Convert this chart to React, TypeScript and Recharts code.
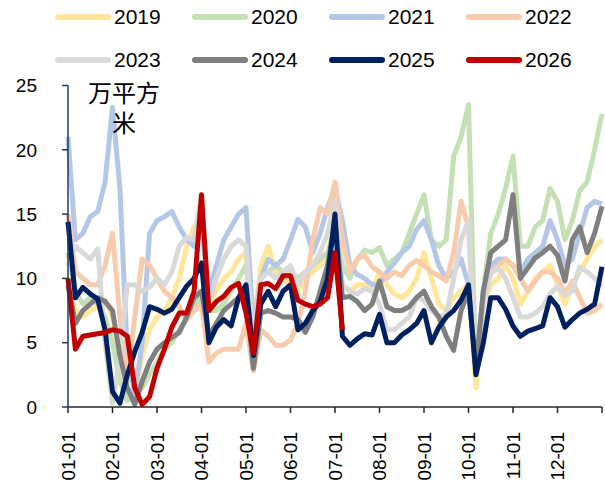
import React from "react";
import { LineChart, Line, XAxis, YAxis } from "recharts";

// ~5-day steps across the year, 6 points per month (index 0..72)
const MONTH_LABELS = ["01-01", "02-01", "03-01", "04-01", "05-01", "06-01", "07-01", "08-01", "09-01", "10-01", "11-01", "12-01"];
const Y_TICKS = [0, 5, 10, 15, 20, 25];

const Y2019 = [
  10, 7.5, 7, 7.5, 7.8, 8.3, 7, 4, 1, 0.5, 4, 6,
  7, 7.5, 8.5, 10, 12.5, 14, 14.5, 8, 9, 10, 10.5, 11.5,
  12, 6, 11, 12.5, 10.5, 10, 9.5, 9, 10, 10.5, 11, 11.5,
  12, 9.5, 9, 9.5, 9.5, 9, 10.5, 9.5, 8.8, 8.5, 9, 10,
  12, 10, 8, 7.5, 8.5, 9, 9.5, 1.5, 8, 9.5, 10, 11,
  10, 8, 9, 10, 10.5, 11, 9.5, 8, 9.5, 10.5, 11.5, 12.5, 13,
];
const Y2020 = [
  12, 9, 8, 8.5, 8, 7, 5, 2, 0.5, 0.8, 1.5, 2.5,
  3.5, 4.5, 5, 6, 6.8, 7.5, 9, 7.5, 7.5, 8, 9, 10,
  11, 6, 10, 10.5, 11, 10.5, 10.5, 10, 10.5, 11, 11.5, 12,
  14, 11, 10, 11.5, 12.2, 12, 12.4, 11, 11.5, 12, 13.5, 15,
  16.5, 13, 12.5, 13, 19.5, 21, 23.5, 2.5, 9, 13.5, 15, 17,
  19.5, 12.5, 12.5, 14, 14.5, 17, 16, 13, 14.5, 16.8, 17.5, 20, 22.8,
];
const Y2021 = [
  21, 13, 13.5, 14.8, 15.2, 17.5, 23.3, 17, 4, 1, 5, 13.5,
  14.5, 14.8, 15.2, 14, 13, 12.5, 14, 9, 11, 13, 14, 15,
  15.5, 6, 10, 11.5, 11, 11.5, 13, 14.6, 14, 12, 13.5, 15.5,
  17, 14.5, 11, 10.3, 10, 9.5, 9.5, 10.5, 11.2, 12, 12.5, 13.8,
  14.5, 13, 11, 10, 10.5, 11.5, 9.5, 3, 9, 11, 11.5, 11.5,
  11, 10.5, 11.5, 12, 12.5, 14.5, 13, 11, 11.5, 13.5, 15.5, 16, 15.8,
];
const Y2022 = [
  15, 10.5, 10, 9.5, 9.5, 11, 13.5, 7, 2, 7, 11.5, 11,
  10, 9, 8.5, 7.8, 6.8, 7.5, 8, 3.5, 4.2, 4.5, 4.5, 4.5,
  6.5, 2.8, 6, 5.5, 4.8, 4.8, 5.2, 6.5, 9, 13, 15.5, 15,
  17.5, 13, 10.5, 11.5, 11.8, 10.9, 10.5, 10, 10.5, 10.2, 11, 11.4,
  11, 10.5, 10.2, 9.8, 12, 16, 14, 3, 8, 10.5, 11, 11.5,
  11, 10, 9, 9.8, 10.5, 10.5, 10, 8.8, 9.8, 8.5, 7.3, 7.5, 8,
];
const Y2023 = [
  11, 12.5, 12, 11.5, 12.3, 5, 0.3, 4, 9.5, 9.5, 9, 9.3,
  10, 9.5, 10.5, 12.5, 13.2, 13, 16.5, 8, 10, 11.5, 12.5, 13,
  12.5, 5, 10, 10.5, 10, 10.5, 11, 9.5, 10.5, 11, 12, 13.5,
  16, 9.5, 9, 8.8, 9.2, 9, 8, 6, 6, 6.5, 7, 8.5,
  8.3, 7.5, 7, 7.2, 10, 13, 14.5, 3, 8, 10.4, 10.8, 10,
  8.5, 7, 7, 7.3, 7.8, 8.8, 9.4, 8.7, 9, 10.9, 10.5, 10, 9.4,
];
const Y2024 = [
  9.5, 6.5, 7.5, 8, 8.5, 8.2, 7.5, 4, 1.5, 0.2, 2, 3.5,
  4.5, 5, 5.4, 5.8, 7, 8.5, 9, 5.5, 6.5, 7.5, 8, 8.5,
  8.8, 3, 7.3, 7.5, 7.3, 7, 7, 6.8, 5.8, 7, 9, 11,
  14.5, 8.5, 8.6, 8.2, 7.5, 8, 9.8, 7.8, 7.5, 7.5, 7.8, 8.5,
  9, 7.8, 7, 5.5, 4.4, 7.5, 9, 3, 9, 12, 12.5, 13,
  16.5, 10, 10.8, 11.6, 12, 12.5, 11.8, 9.8, 13, 14, 12, 13.5, 15.6,
];
const Y2025 = [
  14.4, 8.5, 9.3, 8.8, 8.4, 6, 1.2, 0.3, 2.5, 4.3, 5.8, 7.8,
  7.6, 7.3, 7.6, 8.5, 9.4, 10, 11.2, 5, 6.2, 6.8, 6.3, 8.5,
  9.5, 4, 8, 9, 7.8, 9, 9.5, 6, 6.5, 7.5, 8.2, 10,
  15, 5.5, 4.8, 5.3, 5.7, 5.6, 7.2, 5, 5, 5.6, 6, 6.5,
  7.5, 5, 6.2, 7, 7.5, 8.3, 9.5, 2.5, 5, 8.5, 8.5, 7.6,
  6.3, 5.5, 5.9, 6.1, 6.3, 8.5, 7.8, 6.2, 6.8, 7.3, 7.6, 8, 10.9,
];
const Y2026 = [
  10, 4.5, 5.5, 5.6, 5.7, 5.8, 6, 5.9, 5.5, 1.5, 0.2, 0.8,
  3, 4.5, 6.2, 7.3, 7.3, 9, 16.5, 7.5, 8.2, 8.6, 9.3, 9.6,
  7.3, 4.2, 9.5, 9.6, 9.2, 10.2, 10.2, 8.3, 8, 7.8, 8, 8.5,
  12, 6,
];

const SERIES = [
  { key: "2019", values: Y2019, color: "#FFE699" },
  { key: "2020", values: Y2020, color: "#C5E0B4" },
  { key: "2021", values: Y2021, color: "#B4C7E7" },
  { key: "2022", values: Y2022, color: "#F8CBAD" },
  { key: "2023", values: Y2023, color: "#D9D9D9" },
  { key: "2024", values: Y2024, color: "#7F7F7F" },
  { key: "2025", values: Y2025, color: "#002060" },
  { key: "2026", values: Y2026, color: "#C00000" },
];

const data = Y2019.map((_, i) => {
  const row: Record<string, number | undefined> = { i };
  SERIES.forEach((s) => {
    row[s.key] = s.values[i];
  });
  return row;
});

const FONT = "'Liberation Sans', Arial, sans-serif";

function MonthTick({ x, y, payload }: any) {
  const label = MONTH_LABELS[payload.value / 6];
  if (!label) return <g />;
  return (
    <text
      x={x}
      y={y}
      transform={`rotate(-90 ${x} ${y})`}
      textAnchor="end"
      dy="0.36em"
      fontSize={19}
      fontFamily={FONT}
      fill="#000"
    >
      {label}
    </text>
  );
}

function Legend() {
  return (
    <div style={{ position: "absolute", left: 0, top: 0 }}>
      {SERIES.map((s, idx) => {
        const col = idx % 4;
        const row = Math.floor(idx / 4);
        const left = 55 + col * 137;
        const top = 17 + row * 43;
        return (
          <div key={s.key} style={{ position: "absolute", left, top: top - 13, height: 26, display: "flex", alignItems: "center", whiteSpace: "nowrap" }}>
            <svg width={56} height={10}>
              <line x1={3} y1={5} x2={53} y2={5} stroke={s.color} strokeWidth={6} strokeLinecap="round" />
            </svg>
            <span style={{ fontFamily: FONT, fontSize: 21, color: "#000", marginLeft: 3 }}>{s.key}</span>
          </div>
        );
      })}
    </div>
  );
}

export default function App() {
  return (
    <div style={{ position: "absolute", left: 0, top: 0, width: 605, height: 486, background: "#fff" }}>
      <LineChart width={605} height={486} data={data} margin={{ top: 85.5, right: 3, bottom: 9, left: 0 }}>
        <XAxis
          dataKey="i"
          type="number"
          domain={[0, 72]}
          ticks={[0, 6, 12, 18, 24, 30, 36, 42, 48, 54, 60, 66, 72]}
          interval={0}
          height={70}
          tick={<MonthTick />}
          tickSize={6}
          tickMargin={19}
          axisLine={{ stroke: "#262626", strokeWidth: 1.5 }}
          tickLine={{ stroke: "#262626", strokeWidth: 1.5 }}
        />
        <YAxis
          domain={[0, 25]}
          ticks={Y_TICKS}
          interval={0}
          width={68}
          tickSize={6}
          tickMargin={25}
          tick={{ fontSize: 19, fill: "#000", fontFamily: FONT }}
          axisLine={{ stroke: "#1F3864", strokeWidth: 1.5 }}
          tickLine={{ stroke: "#1F3864", strokeWidth: 1.5 }}
        />
        {SERIES.map((s) => (
          <Line
            key={s.key}
            dataKey={s.key}
            type="linear"
            stroke={s.color}
            strokeWidth={5}
            strokeLinejoin="round"
            dot={false}
            activeDot={false}
            isAnimationActive={false}
          />
        ))}
      </LineChart>
      <Legend />
      {/* unit label wraps naturally after three characters */}
      <div
        style={{
          position: "absolute",
          left: 86,
          top: 77,
          width: 76,
          textAlign: "center",
          fontFamily: "'Noto Sans CJK SC', sans-serif",
          fontSize: 24,
          lineHeight: "30px",
          color: "#000",
        }}
      >
        万平方米
      </div>
    </div>
  );
}
